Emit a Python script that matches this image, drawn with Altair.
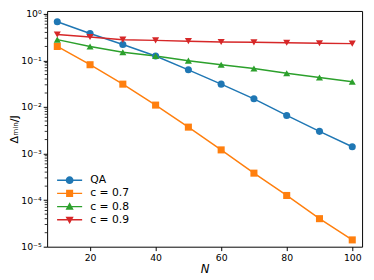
import altair as alt
import pandas as pd

N = [10, 20, 30, 40, 50, 60, 70, 80, 90, 100]
qa = [0.68, 0.38, 0.22, 0.125, 0.063, 0.031, 0.015, 0.0066, 0.0030, 0.0014]
c07 = [0.20, 0.081, 0.031, 0.011, 0.0037, 0.0012, 0.00038, 0.000126, 0.000040, 0.000014]
c08 = [0.28, 0.20, 0.15, 0.125, 0.099, 0.081, 0.067, 0.053, 0.043, 0.035]
c09 = [0.36, 0.32, 0.28, 0.27, 0.26, 0.25, 0.245, 0.24, 0.235, 0.23]

series_names = ["QA", "c = 0.7", "c = 0.8", "c = 0.9"]
colors = ["#1f77b4", "#ff7f0e", "#2ca02c", "#d62728"]
shapes = ["circle", "square", "triangle-up", "triangle-down"]

x_ticks = [20, 40, 60, 80, 100]
y_ticks = [1e-5, 1e-4, 1e-3, 1e-2, 1e-1, 1]
y_tick_labels = ["10⁻⁵", "10⁻⁴", "10⁻³", "10⁻²", "10⁻¹", "10⁰"]
y_minor = [m * 10.0 ** e for e in range(-5, 0) for m in range(2, 10)]

rows = []
for name, vals in zip(series_names, [qa, c07, c08, c09]):
    for n, v in zip(N, vals):
        rows.append({"N": n, "val": v, "series": name, "lseries": name})
df = pd.DataFrame(rows)
minor_df = pd.DataFrame({"m": y_minor})

# legend symbols: line segment + marker
line_rect = "M-1.6,-0.09 H1.6 V0.09 H-1.6 Z "
legend_paths = [
    line_rect + "M0.5,0 A0.5,0.5 0 1,1 -0.5,0 A0.5,0.5 0 1,1 0.5,0 Z",
    line_rect + "M-0.45,-0.45 H0.45 V0.45 H-0.45 Z",
    line_rect + "M0,-0.55 L0.52,0.4 L-0.52,0.4 Z",
    line_rect + "M0,0.55 L-0.52,-0.4 L0.52,-0.4 Z",
]

xs = alt.Scale(domain=[6.9, 103.0], nice=False, zero=False)
ys = alt.Scale(type="log", domain=[1e-5, 1.156], nice=False)
cscale = alt.Scale(domain=series_names, range=colors)

label_expr = "[" + ",".join("'" + s + "'" for s in y_tick_labels) + "][round(log(datum.value)/LN10)+5]"

base = alt.Chart(df)

lines = base.mark_line(strokeWidth=1.5, clip=True).encode(
    x=alt.X("N:Q", scale=xs,
            axis=alt.Axis(values=x_ticks, title="N", titleFontStyle="italic",
                          titleFontWeight="normal", titleFontSize=12,
                          titleY=26, titleBaseline="alphabetic",
                          labelFontSize=9.5, tickSize=4,
                          labelPadding=2, grid=False, domain=False)),
    y=alt.Y("val:Q", scale=ys,
            axis=alt.Axis(values=y_ticks, labelExpr=label_expr,
                          title="Δₘᵢₙ/J", titleFontWeight="normal",
                          titleFontSize=11.5, titlePadding=1,
                          labelFontSize=9.5, tickSize=4, labelPadding=2,
                          grid=False, domain=False)),
    color=alt.Color("series:N", scale=cscale, legend=None),
    detail="series:N",
)

points = base.mark_point(filled=True, opacity=1, size=52).encode(
    x=alt.X("N:Q", scale=xs),
    y=alt.Y("val:Q", scale=ys),
    color=alt.Color("series:N", scale=cscale, legend=None),
    shape=alt.Shape("series:N", scale=alt.Scale(domain=series_names, range=shapes), legend=None),
)

minor = alt.Chart(minor_df).mark_rule(color="black", strokeWidth=0.8).encode(
    x=alt.value(0), x2=alt.value(-2.5),
    y=alt.Y("m:Q", scale=ys),
)

leg = alt.Legend(title=None, orient="none", legendX=15, legendY=165,
                 labelFontSize=11, labelOffset=13, symbolSize=256,
                 symbolStrokeWidth=0, symbolOpacity=1, rowPadding=0.5,
                 padding=0, labelFont="DejaVu Sans")

legend_layer = base.mark_point(filled=True, opacity=1).encode(
    x=alt.X("N:Q", scale=xs),
    y=alt.Y("val:Q", scale=ys),
    color=alt.Color("lseries:N", scale=alt.Scale(domain=series_names, range=colors), legend=leg),
    shape=alt.Shape("lseries:N", scale=alt.Scale(domain=series_names, range=legend_paths), legend=leg),
).transform_filter("false")

chart = alt.layer(lines, points, minor, legend_layer).resolve_scale(
    color="independent", shape="independent"
).properties(
    width=322, height=241,
    autosize=alt.AutoSizeParams(type="none"),
    padding={"left": 40, "top": 0, "right": 4, "bottom": 31},
).configure_view(
    stroke="black", strokeWidth=1
).configure_axis(
    labelFont="DejaVu Sans", titleFont="DejaVu Sans", labelColor="black",
    titleColor="black", tickColor="black"
)

chart.save("out.html", embed_options={"renderer": "svg", "actions": False})
